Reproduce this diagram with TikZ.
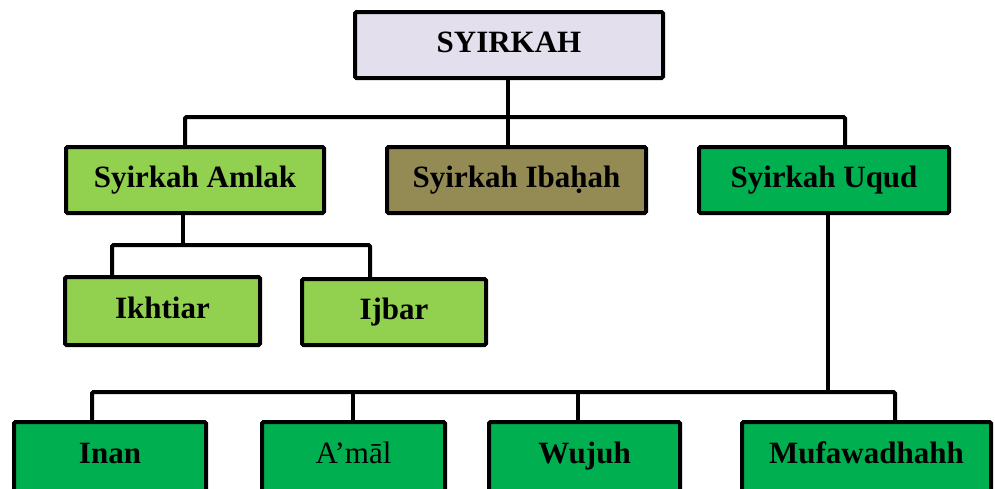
\documentclass[tikz,border=0pt]{standalone}
\usepackage{fontspec}
\setmainfont{Liberation Serif}
\definecolor{topfill}{HTML}{E4DFEC}
\definecolor{lightgreen}{HTML}{92D050}
\definecolor{olive}{HTML}{948A54}
\definecolor{green}{HTML}{00B050}
\begin{document}
\begin{tikzpicture}[x=1pt,y=-1pt,
  box/.style={draw=black, line width=4pt, rounded corners=1.5pt, rectangle,
    inner sep=0pt, minimum height=66pt, text height=22pt, text depth=8pt,
    font=\fontsize{31}{36}\selectfont\bfseries},
  lowbox/.style={box, fill=green, minimum height=86pt, text height=20pt, text depth=24pt},
  conn/.style={draw=black, line width=4pt, rounded corners=1.5pt, line cap=rect}]
\useasboundingbox (0,0) rectangle (995,488);
\clip (0,0) rectangle (995,488);
% junction coordinates
\coordinate (ja) at (185,117);
\coordinate (jb) at (508,117);
\coordinate (jc) at (845,117);
\coordinate (ka) at (112,245);
\coordinate (kb) at (370,245);
\coordinate (m1) at (92,392);
\coordinate (m2) at (353,392);
\coordinate (m3) at (578,392);
\coordinate (m4) at (895,392);
% nodes
\node[box, fill=topfill, minimum width=308pt] (top) at (509,45) {SYIRKAH};
\node[box, fill=lightgreen, minimum width=258pt] (amlak) at (195,180) {Syirkah Amlak};
\node[box, fill=olive, minimum width=259pt] (ibahah) at (516.5,180) {Syirkah Ibaḥah};
\node[box, fill=green, minimum width=250pt] (uqud) at (824,180) {Syirkah Uqud};
\node[box, fill=lightgreen, minimum width=195pt, minimum height=68pt] (ikhtiar) at (162.5,311) {Ikhtiar};
\node[box, fill=lightgreen, minimum width=184pt] (ijbar) at (394,312) {Ijbar};
\node[lowbox, minimum width=192pt] (inan) at (110,465) {Inan};
\node[lowbox, minimum width=183pt, font=\fontsize{31}{36}\selectfont] (amal) at (353.5,465) {A’māl};
\node[lowbox, minimum width=191pt] (wujuh) at (584.5,465) {Wujuh};
\node[lowbox, minimum width=249pt] (mufa) at (866.5,465) {Mufawadhahh};
% level 1
\draw[conn] (top.south -| jb) -- (jb);
\draw[conn] (amlak.north -| ja) |- (jc) -- (uqud.north -| jc);
\draw[conn] (jb) -- (ibahah.north -| jb);
% amlak children
\draw[conn] (amlak.south -| 183,0) -- (183,245);
\draw[conn] (ikhtiar.north -| ka) |- (kb) -- (ijbar.north -| kb);
% uqud children
\draw[conn] (uqud.south -| 828,0) -- (828,392);
\draw[conn] (inan.north -| m1) |- (m4) -- (mufa.north -| m4);
\draw[conn] (m2) -- (amal.north -| m2);
\draw[conn] (m3) -- (wujuh.north -| m3);
\end{tikzpicture}
\end{document}
